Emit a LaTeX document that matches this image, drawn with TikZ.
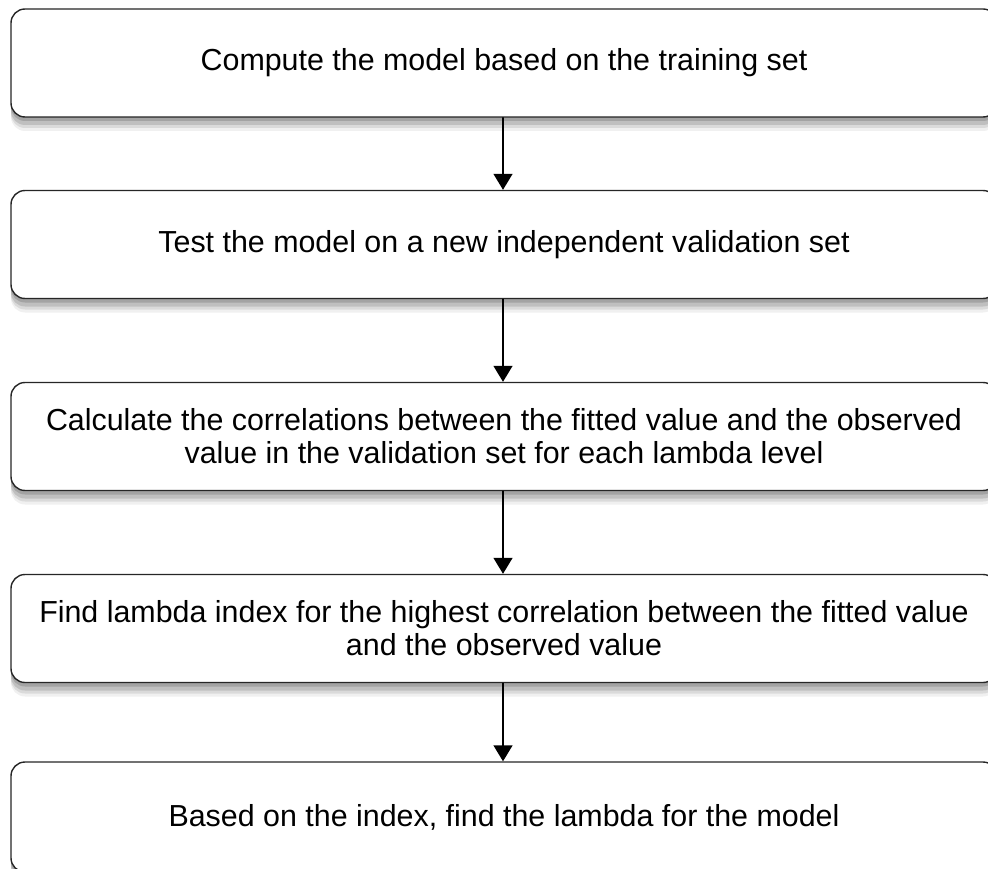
\documentclass[tikz,border=0pt]{standalone}
\usepackage{fontspec}
\setmainfont{Liberation Sans}
\usepackage{tikz}
\usetikzlibrary{arrows.meta}
\usetikzlibrary{shadows}
\definecolor{boxline}{rgb}{0.15,0.15,0.15}

\begin{document}
\begin{tikzpicture}[line cap=round,line join=round, x=1pt,y=-1pt,
						stepbox/.style={rectangle, rounded corners=14pt, draw=boxline, line width=1.4pt, fill=white,
							minimum width=986pt, minimum height=108pt, align=center,
							font=\fontsize{30.4}{33}\selectfont,
							drop shadow={shadow xshift=0pt, shadow yshift=-14pt, opacity=0.06, fill=black},
							drop shadow={shadow xshift=0pt, shadow yshift=-11pt, opacity=0.09, fill=black},
							drop shadow={shadow xshift=0pt, shadow yshift=-8pt, opacity=0.12, fill=black},
							drop shadow={shadow xshift=0pt, shadow yshift=-4pt, opacity=0.15, fill=black}},
						flow/.style={-{Triangle[length=16pt, width=19pt]}, line width=1.4pt, color=black}]
						\useasboundingbox (0,0) rectangle (988,869);
						\clip (0,0) rectangle (988,869);
						% Kaesten des Ablaufs
						\node[stepbox] (train) at (504,63) {Compute the model based on the training set};
						\node[stepbox] (test) at (504,244.5) {Test the model on a new independent validation set};
						\node[stepbox] (corr) at (504,436.5) {Calculate the correlations between the fitted value and the observed\\value in the validation set for each lambda level};
						\node[stepbox] (index) at (504,628.5) {Find lambda index for the highest correlation between the fitted value\\and the observed value};
						\node[stepbox, minimum height=110pt] (lambda) at (504,817) {Based on the index, find the lambda for the model};
						\foreach \a/\b in {train/test, test/corr, corr/index, index/lambda}
						\draw[flow] (\a.south -| 503,0) -- (\b.north -| 503,0);
					\end{tikzpicture}
\end{document}
